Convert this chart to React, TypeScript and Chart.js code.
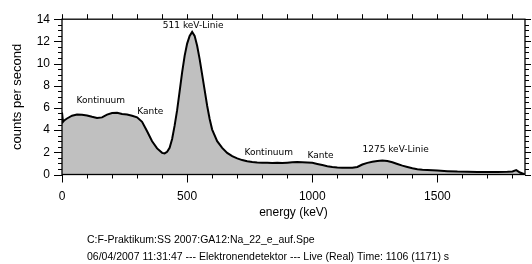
import React, { useEffect, useRef } from 'react';
import { Chart, registerables } from 'chart.js';

Chart.register(...registerables);

// Spectrum: energy in keV, counts per second
const energies = [
  0, 4, 10, 20, 40, 60, 80, 100, 120, 140, 160, 180, 200, 220, 240, 260, 280, 300, 320, 340,
  360, 380, 400, 410, 420, 430, 440, 450, 460, 470, 480, 490, 500, 510, 520, 530, 540, 550,
  560, 570, 580, 590, 600, 620, 640, 660, 680, 700, 720, 740, 760, 780, 800, 820, 840, 860,
  880, 900, 920, 940, 960, 980, 1000, 1020, 1040, 1060, 1080, 1100, 1120, 1140, 1160, 1180,
  1200, 1220, 1240, 1260, 1280, 1300, 1320, 1340, 1360, 1380, 1400, 1420, 1440, 1460, 1480,
  1500, 1540, 1580, 1620, 1660, 1700, 1740, 1780, 1800, 1815, 1830, 1845, 1850,
];
const counts = [
  5.6, 4.75, 4.9, 5.05, 5.3, 5.4, 5.38, 5.32, 5.2, 5.1, 5.15, 5.4, 5.55, 5.56, 5.45, 5.4, 5.3, 5.15, 4.75, 3.9,
  3.0, 2.35, 1.95, 1.9, 2.05, 2.4, 3.2, 4.4, 5.8, 7.5, 9.2, 10.7, 11.8, 12.5, 12.85, 12.5, 11.6, 10.4,
  9.0, 7.6, 6.2, 5.0, 4.05, 3.0, 2.4, 1.95, 1.65, 1.45, 1.3, 1.2, 1.12, 1.08, 1.06, 1.05, 1.04, 1.05,
  1.04, 1.07, 1.1, 1.12, 1.1, 1.08, 1.05, 0.95, 0.85, 0.75, 0.68, 0.63, 0.6, 0.6, 0.6, 0.68,
  0.9, 1.05, 1.15, 1.22, 1.27, 1.22, 1.1, 0.95, 0.8, 0.68, 0.56, 0.48, 0.42, 0.4, 0.38,
  0.36, 0.3, 0.26, 0.24, 0.22, 0.23, 0.22, 0.24, 0.28, 0.4, 0.18, 0.05, 0,
];

const xTickValues = [0, 500, 1000, 1500];
const yTickValues = [0, 2, 4, 6, 8, 10, 12, 14];

const annotationTexts = ['Kontinuum', 'Kante', '511 keV-Linie', 'Kontinuum', 'Kante', '1275 keV-Linie'];
const annotationEnergies = [155, 353, 524, 826, 1033, 1333];
const annotationCounts = [6.63, 5.69, 13.42, 1.96, 1.67, 2.21];

const footerLines = [
  'C:F-Praktikum:SS 2007:GA12:Na_22_e_auf.Spe',
  '06/04/2007 11:31:47 --- Elektronendetektor --- Live (Real) Time: 1106 (1171) s',
];

const SANS = 'Liberation Sans, Arial, sans-serif';

const decorPlugin = {
  id: 'decor',
  afterDatasetsDraw(chart: any) {
    const { ctx, chartArea, scales } = chart;
    const { left, right, top, bottom } = chartArea;
    const x = scales.x;
    const y = scales.y;
    ctx.save();
    // annotations
    ctx.fillStyle = '#000';
    ctx.font = '9px "DejaVu Sans", sans-serif';
    ctx.textAlign = 'center';
    ctx.textBaseline = 'middle';
    annotationTexts.forEach((t, i) => {
      ctx.fillText(t, x.getPixelForValue(annotationEnergies[i]), y.getPixelForValue(annotationCounts[i]));
    });
    // frame
    ctx.strokeStyle = '#000';
    ctx.lineWidth = 1.3;
    ctx.strokeRect(left, top, right - left, bottom - top);
    ctx.lineWidth = 1;
    ctx.beginPath();
    for (let v = 0; v <= 1800; v += 100) {
      const px = Math.round(x.getPixelForValue(v)) + 0.5;
      const len = xTickValues.includes(v) ? 8 : 4;
      ctx.moveTo(px, bottom);
      ctx.lineTo(px, bottom + len);
      ctx.moveTo(px, top);
      ctx.lineTo(px, top - 5);
    }
    for (let v = 0; v <= 14; v += 0.5) {
      const py = Math.round(y.getPixelForValue(v)) + 0.5;
      const len = yTickValues.includes(v) ? 8 : 4;
      ctx.moveTo(left, py);
      ctx.lineTo(left - len, py);
      ctx.moveTo(right, py);
      ctx.lineTo(right + (yTickValues.includes(v) ? 6 : 4), py);
    }
    ctx.stroke();
    // footer
    ctx.font = '10.5px ' + SANS;
    ctx.textAlign = 'left';
    ctx.textBaseline = 'middle';
    ctx.fillText(footerLines[0], 87, 240);
    ctx.fillText(footerLines[1], 87, 257);
    ctx.restore();
  },
};

export default function App() {
  const ref = useRef<HTMLCanvasElement>(null);
  useEffect(() => {
    if (!ref.current) return;
    const chart = new Chart(ref.current, {
      type: 'line',
      data: {
        datasets: [
          {
            data: energies.map((e, i) => ({ x: e, y: counts[i] })),
            borderColor: '#000',
            borderWidth: 2,
            backgroundColor: 'rgb(192,192,192)',
            fill: 'origin',
            pointRadius: 0,
            tension: 0,
          },
        ],
      },
      options: {
        animation: false,
        responsive: false,
        layout: { padding: { top: 15, right: 7, left: 0, bottom: 0 } },
        plugins: { legend: { display: false }, tooltip: { enabled: false } },
        scales: {
          x: {
            type: 'linear',
            min: 0,
            max: 1850,
            afterBuildTicks: (s: any) => {
              s.ticks = xTickValues.map((v) => ({ value: v }));
            },
            afterFit: (s: any) => {
              s.height = 89.5;
            },
            grid: { display: false, drawTicks: false },
            border: { display: false },
            ticks: {
              autoSkip: false,
              maxRotation: 0,
              padding: 15,
              color: '#000',
              font: { family: SANS, size: 12 },
              callback: (v: any) => String(v),
            },
            title: {
              display: true,
              text: 'energy (keV)',
              color: '#000',
              font: { family: SANS, size: 12 },
              padding: { top: 0, bottom: 43.8 },
            },
          },
          y: {
            min: 0,
            max: 14,
            afterBuildTicks: (s: any) => {
              s.ticks = yTickValues.map((v) => ({ value: v }));
            },
            afterFit: (s: any) => {
              s.width = 62;
            },
            grid: { display: false, drawTicks: false },
            border: { display: false },
            ticks: {
              autoSkip: false,
              padding: 12,
              color: '#000',
              font: { family: SANS, size: 12 },
              callback: (v: any) => String(v),
            },
            title: {
              display: true,
              text: 'counts per second',
              color: '#000',
              font: { family: SANS, size: 13 },
              padding: { top: 9.2, bottom: 0 },
            },
          },
        },
      },
      plugins: [decorPlugin],
    });
    return () => chart.destroy();
  }, []);
  return (
    <div style={{ position: 'fixed', left: 0, top: 0, width: 532, height: 264, background: '#fff' }}>
      <canvas ref={ref} width={532} height={264} />
    </div>
  );
}
